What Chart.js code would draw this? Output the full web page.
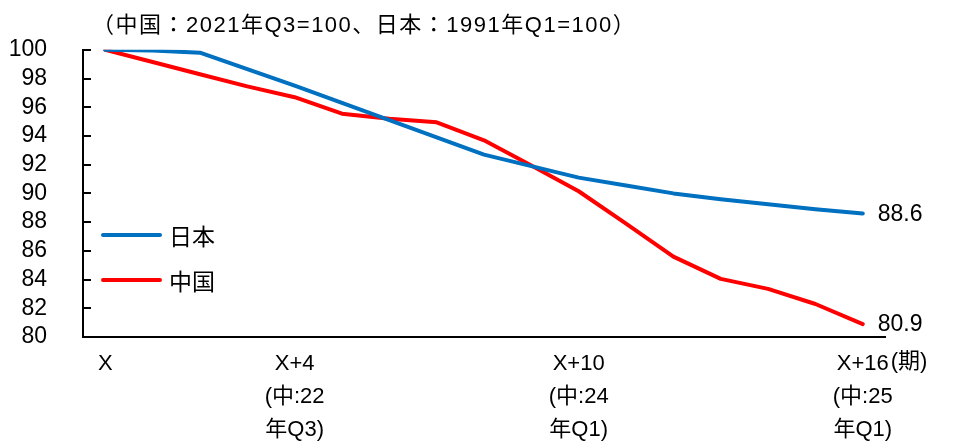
<!DOCTYPE html>
<html>
<head>
<meta charset="utf-8">
<script src="https://cdn.jsdelivr.net/npm/chart.js@4"></script>
<style>
  html, body { margin: 0; padding: 0; background: #fff; }
  #wrap { width: 975px; height: 443px; position: relative; }
</style>
</head>
<body>
<div id="wrap"><canvas id="c" width="975" height="443"></canvas></div>
<script>
// Period index from X to X+16
const periods = [0, 1, 2, 3, 4, 5, 6, 7, 8, 9, 10, 11, 12, 13, 14, 15, 16];

// Japan: 1991Q1 = 100
const japan = [100, 99.95, 99.8, 98.65, 97.5, 96.3, 95.1, 93.9, 92.7, 91.9, 91.1, 90.55, 90.0, 89.6, 89.25, 88.9, 88.6];
// China: 2021Q3 = 100
const china = [100, 99.15, 98.3, 97.45, 96.7, 95.55, 95.2, 94.95, 93.7, 91.95, 90.15, 87.9, 85.6, 84.05, 83.35, 82.3, 80.9];

const seriesNames = ['日本', '中国'];

// Labelled periods on the horizontal axis
const tickPositions = [0, 4, 10, 16];
const tickLabels = [
  ['X'],
  ['X+4', '(中:22', '年Q3)'],
  ['X+10', '(中:24', '年Q1)'],
  ['X+16', '(中:25', '年Q1)']
];
const yTicks = [80, 82, 84, 86, 88, 90, 92, 94, 96, 98, 100];

const titleText = '（中国：2021年Q3=100、日本：1991年Q1=100）';
const unitText = '(期)';

const MIXED = '"Liberation Sans", "Noto Sans CJK JP", sans-serif';
const CJK = '"Noto Sans CJK JP", sans-serif';

const toPoints = arr => arr.map((v, i) => ({ x: periods[i], y: v }));

// Title, inner y tick marks, legend, end labels and the period unit
const decorations = {
  id: 'decorations',
  afterDraw(chart) {
    const ctx = chart.ctx;
    const y = chart.scales.y;
    const x = chart.scales.x;
    const area = chart.chartArea;
    ctx.save();

    // title
    ctx.fillStyle = '#000';
    ctx.font = '22px ' + MIXED;
    ctx.textAlign = 'left';
    ctx.textBaseline = 'middle';
    if ('letterSpacing' in ctx) ctx.letterSpacing = '1.5px';
    ctx.fillText(titleText, 92, 26);
    if ('letterSpacing' in ctx) ctx.letterSpacing = '0px';

    // inner tick marks on the value axis
    ctx.strokeStyle = '#000';
    ctx.lineWidth = 2;
    y.ticks.forEach(t => {
      const py = Math.round(y.getPixelForValue(t.value));
      ctx.beginPath();
      ctx.moveTo(area.left, py);
      ctx.lineTo(area.left + 8, py);
      ctx.stroke();
    });

    // legend
    const legendRows = [235, 280];
    chart.data.datasets.forEach((ds, i) => {
      const ly = legendRows[i];
      ctx.strokeStyle = ds.borderColor;
      ctx.lineWidth = 4;
      ctx.lineCap = 'round';
      ctx.beginPath();
      ctx.moveTo(103, ly);
      ctx.lineTo(160, ly);
      ctx.stroke();
      ctx.fillStyle = '#000';
      ctx.font = '23px ' + CJK;
      ctx.textAlign = 'left';
      ctx.textBaseline = 'middle';
      ctx.fillText(ds.label, 169, ly + 1);
    });

    // value labels at the last point of each series
    chart.data.datasets.forEach((ds, i) => {
      const meta = chart.getDatasetMeta(i);
      const pt = meta.data[meta.data.length - 1];
      const v = ds.data[ds.data.length - 1].y;
      ctx.fillStyle = '#000';
      ctx.font = '23px ' + MIXED;
      ctx.textAlign = 'left';
      ctx.textBaseline = 'middle';
      ctx.fillText(v.toFixed(1), pt.x + 15, pt.y + 1);
    });

    // unit after the last period label
    const lastPos = tickPositions[tickPositions.length - 1];
    const lastText = tickLabels[tickLabels.length - 1][0];
    ctx.font = '22px ' + MIXED;
    const w = ctx.measureText(lastText).width;
    ctx.textAlign = 'left';
    ctx.textBaseline = 'middle';
    ctx.fillStyle = '#000';
    ctx.fillText(unitText, x.getPixelForValue(lastPos) + w / 2 + 2, 362);

    ctx.restore();
  }
};

new Chart(document.getElementById('c'), {
  type: 'line',
  data: {
    datasets: [
      { label: seriesNames[0], data: toPoints(japan), borderColor: '#0070C0', borderWidth: 4, pointRadius: 0, tension: 0, borderCapStyle: 'round', borderJoinStyle: 'round' },
      { label: seriesNames[1], data: toPoints(china), borderColor: '#FF0000', borderWidth: 4, pointRadius: 0, tension: 0, borderCapStyle: 'round', borderJoinStyle: 'round' }
    ]
  },
  options: {
    responsive: false,
    animation: false,
    events: [],
    layout: { padding: { top: 49, right: 90, bottom: 0, left: 0 } },
    plugins: { legend: { display: false }, tooltip: { enabled: false } },
    scales: {
      x: {
        type: 'linear',
        min: -0.47,
        max: 16.47,
        afterBuildTicks: s => { s.ticks = tickPositions.map(v => ({ value: v })); },
        afterFit: s => { s.height = 106; },
        grid: { display: true, drawOnChartArea: false, drawTicks: false },
        border: { display: true, color: '#000', width: 2 },
        ticks: {
          autoSkip: false,
          maxRotation: 0,
          padding: 10,
          color: '#000',
          font: { family: MIXED, size: 22, lineHeight: 1.5 },
          callback: v => { const k = tickPositions.indexOf(v); return k >= 0 ? tickLabels[k] : ''; }
        }
      },
      y: {
        min: 80,
        max: 100,
        afterBuildTicks: s => { s.ticks = yTicks.map(v => ({ value: v })); },
        afterFit: s => { s.width = 83; },
        grid: { display: true, drawOnChartArea: false, drawTicks: false },
        border: { display: true, color: '#000', width: 2 },
        ticks: {
          autoSkip: false,
          padding: 36,
          color: '#000',
          font: { family: MIXED, size: 23 }
        }
      }
    }
  },
  plugins: [decorations]
});
</script>
</body>
</html>
